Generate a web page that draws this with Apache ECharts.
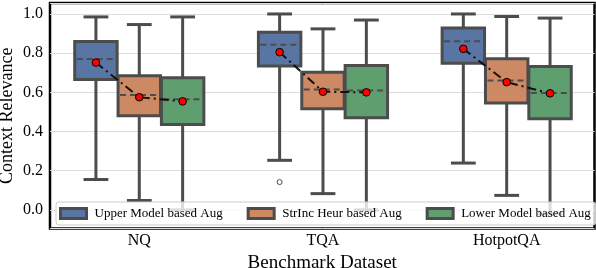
<!DOCTYPE html>
<html><head><meta charset="utf-8">
<script src="https://cdn.jsdelivr.net/npm/echarts@6/dist/echarts.min.js"></script>
<style>html,body{margin:0;padding:0;background:#fff}#c{width:596px;height:268px}</style>
</head><body><div id="c"></div>
<script>
const categories = ['NQ', 'TQA', 'HotpotQA'];
const hueNames = ['Upper Model based Aug', 'StrInc Heur based Aug', 'Lower Model based Aug'];
const hueColors = ['#5875a4', '#cc8963', '#5f9e6e'];
const yTicks = [0.0, 0.2, 0.4, 0.6, 0.8, 1.0];

// Upper Model based Aug
const upperLow = [0.155, 0.253, 0.239];
const upperQ1 = [0.666, 0.734, 0.749];
const upperMedian = [0.770, 0.843, 0.861];
const upperQ3 = [0.860, 0.907, 0.928];
const upperHigh = [0.985, 1.000, 1.000];
const upperMean = [0.752, 0.805, 0.822];
const upperOutliers = [[], [0.142], []];

// StrInc Heur based Aug
const strincLow = [0.048, 0.083, 0.074];
const strincQ1 = [0.480, 0.516, 0.545];
const strincMedian = [0.586, 0.615, 0.661];
const strincQ3 = [0.685, 0.703, 0.771];
const strincHigh = [0.946, 0.924, 0.987];
const strincMean = [0.575, 0.603, 0.652];
const strincOutliers = [[], [], []];

// Lower Model based Aug
const lowerLow = [0.000, 0.000, -0.020];
const lowerQ1 = [0.436, 0.470, 0.465];
const lowerMedian = [0.565, 0.610, 0.596];
const lowerQ3 = [0.675, 0.737, 0.732];
const lowerHigh = [0.985, 0.969, 0.979];
const lowerMean = [0.554, 0.600, 0.595];
const lowerOutliers = [[], [], []];

const hues = [
  {low: upperLow, q1: upperQ1, med: upperMedian, q3: upperQ3, high: upperHigh, mean: upperMean, out: upperOutliers},
  {low: strincLow, q1: strincQ1, med: strincMedian, q3: strincQ3, high: strincHigh, mean: strincMean, out: strincOutliers},
  {low: lowerLow, q1: lowerQ1, med: lowerMedian, q3: lowerQ3, high: lowerHigh, mean: lowerMean, out: lowerOutliers}
];

const EDGE = '#4c4c4c';
const FONT = 'Liberation Serif';
const PITCH = 0.236, BOXW = 0.231, CAPW = 0.135;

function boxRender(h) {
  return function (params, api) {
    const i = api.value(0);
    const unit = api.size([1, 0])[0];
    const xc = api.coord([i + (h - 1) * PITCH, 0])[0];
    const hw = BOXW * unit / 2, cw = CAPW * unit / 2;
    const y = v => api.coord([i, v])[1];
    const yl = y(api.value(1)), y1 = y(api.value(2)), ym = y(api.value(3)), y3 = y(api.value(4)), yh = y(api.value(5));
    const ls = {stroke: EDGE, lineWidth: 3};
    const children = [
      {type: 'line', shape: {x1: xc, y1: y1, x2: xc, y2: yl}, style: ls},
      {type: 'line', shape: {x1: xc, y1: y3, x2: xc, y2: yh}, style: ls},
      {type: 'line', shape: {x1: xc - cw, y1: yl, x2: xc + cw, y2: yl}, style: ls},
      {type: 'line', shape: {x1: xc - cw, y1: yh, x2: xc + cw, y2: yh}, style: ls},
      {type: 'rect', shape: {x: xc - hw, y: y3, width: 2 * hw, height: y1 - y3}, style: {fill: hueColors[h], stroke: EDGE, lineWidth: 3}},
      {type: 'line', shape: {x1: xc - hw + 2, y1: ym, x2: xc + hw - 2, y2: ym}, style: {stroke: EDGE, lineWidth: 2, lineDash: [6, 4]}}
    ];
    hues[h].out[i].forEach(v => {
      children.push({type: 'circle', shape: {cx: xc, cy: y(v), r: 2.5}, style: {fill: '#fff', stroke: EDGE, lineWidth: 1}});
    });
    return {type: 'group', children};
  };
}

function meanRender(params, api) {
  const i = api.value(0);
  const pts = [0, 1, 2].map(h => api.coord([i + (h - 1) * PITCH, api.value(1 + h)]));
  const children = [
    {type: 'polyline', shape: {points: pts}, style: {stroke: '#111', lineWidth: 2, fill: null, lineDash: [9, 4, 2, 4]}}
  ];
  pts.forEach(p => children.push({type: 'circle', shape: {cx: p[0], cy: p[1], r: 3.8}, style: {fill: '#ff0000', stroke: '#000', lineWidth: 1}}));
  return {type: 'group', children};
}

const series = hues.map((d, h) => ({
  type: 'custom',
  name: hueNames[h],
  itemStyle: {color: hueColors[h]},
  renderItem: boxRender(h),
  encode: {x: 0, y: [1, 2, 3, 4, 5]},
  data: categories.map((c, i) => [i, d.low[i], d.q1[i], d.med[i], d.q3[i], d.high[i]]),
  z: 2
}));
series.push({
  type: 'custom',
  name: 'mean',
  renderItem: meanRender,
  encode: {x: 0, y: [1, 2, 3]},
  data: categories.map((c, i) => [i, hues[0].mean[i], hues[1].mean[i], hues[2].mean[i]]),
  z: 3
});

const chart = echarts.init(document.getElementById('c'));
chart.setOption({
  animation: false,
  backgroundColor: '#fff',
  grid: {left: 50, right: 1.5, top: 3, bottom: 39.5, outerBoundsMode: 'none', containLabel: false,
         show: true, borderColor: '#000', borderWidth: 2.5, backgroundColor: 'transparent'},
  xAxis: {
    type: 'value', min: -0.486, max: 2.478, splitNumber: 3,
    axisLine: {show: false}, axisTick: {show: false}, splitLine: {show: false},
    axisLabel: {
      color: '#000', fontFamily: FONT, fontSize: 16, margin: 4,
      formatter: v => (Math.abs(v - Math.round(v)) < 1e-6 && categories[Math.round(v)] !== undefined) ? categories[Math.round(v)] : ''
    },
    name: 'Benchmark Dataset', nameLocation: 'middle', nameGap: 25, nameMoveOverlap: false,
    nameTextStyle: {color: '#000', fontFamily: FONT, fontSize: 19}
  },
  yAxis: {
    type: 'value', min: -0.095, max: 1.056, splitNumber: 5,
    axisLine: {show: false}, axisTick: {show: false},
    splitLine: {lineStyle: {color: '#dcdcdc', width: 1}},
    axisLabel: {
      color: '#000', fontFamily: FONT, fontSize: 16, margin: 7,
      showMinLabel: true, showMaxLabel: true,
      formatter: v => {
        const t = yTicks.find(k => Math.abs(k - v) < 1e-6);
        return t === undefined ? '' : t.toFixed(1);
      }
    },
    name: 'Context Relevance', nameLocation: 'middle', nameGap: 34, nameMoveOverlap: false,
    nameTextStyle: {color: '#000', fontFamily: FONT, fontSize: 18}
  },
  legend: {
    left: 56, top: 202,
    padding: [5, 5, 5, 3],
    itemWidth: 26, itemHeight: 10, itemGap: 24,
    backgroundColor: 'rgba(255,255,255,0.8)', borderColor: '#cccccc', borderWidth: 1, borderRadius: 3,
    textStyle: {color: '#000', fontFamily: FONT, fontSize: 13, padding: [0, 0, 0, 3]},
    data: hueNames.map((n, k) => ({name: n, icon: 'rect', itemStyle: {color: hueColors[k], borderColor: EDGE, borderWidth: 3}}))
  },
  series
});
</script></body></html>
